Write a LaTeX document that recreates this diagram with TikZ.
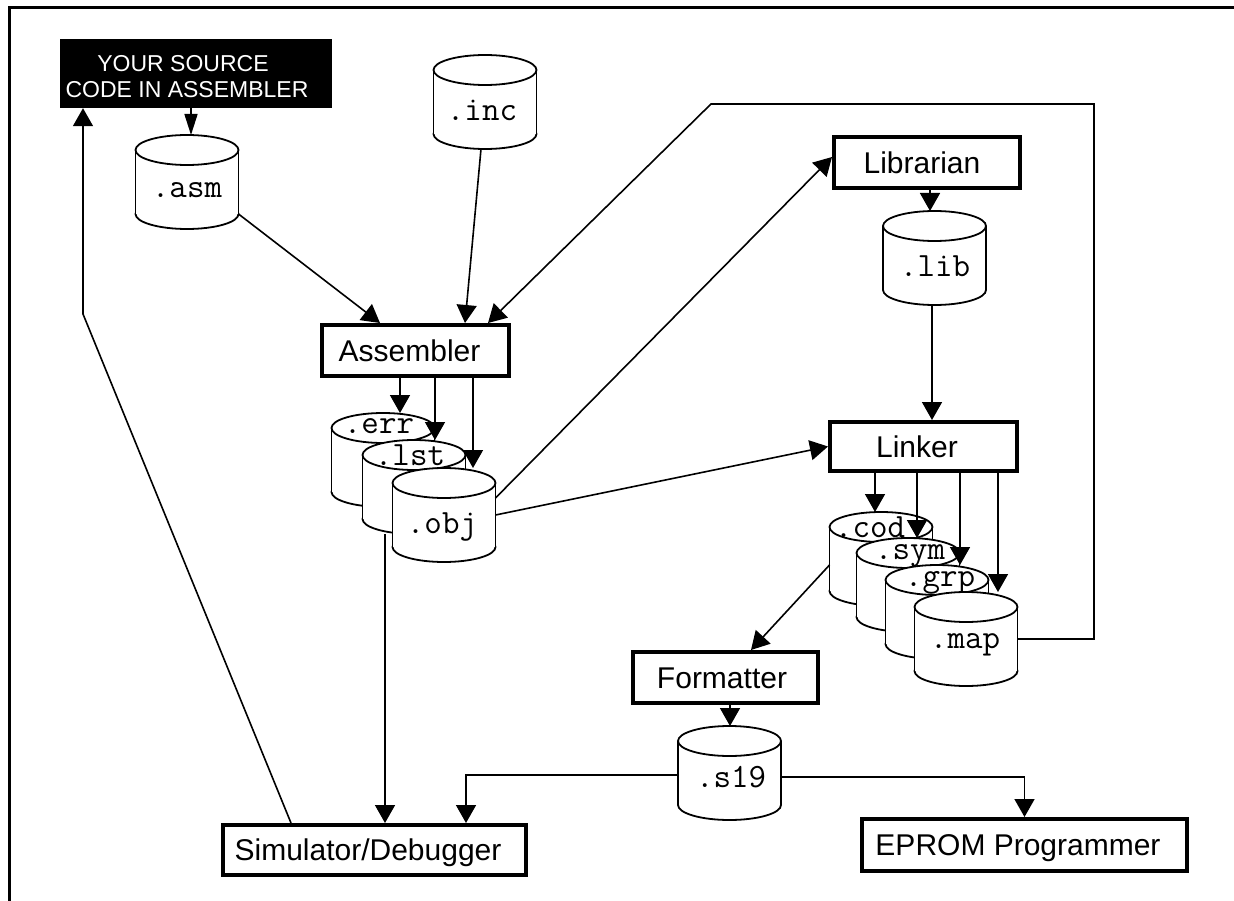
\documentclass[tikz,border=0pt]{standalone}
\usepackage{fontspec}
\setmainfont{Liberation Sans}
\usetikzlibrary{arrows.meta,calc}
\tikzset{
  conn/.style={line width=1.6pt},
  arr/.style={conn,-{Triangle[length=18pt,width=20pt]}},
  arrs/.style={conn,-{Triangle[length=21pt,width=13pt]}},
  cylline/.style={line width=1.8pt},
  procbox/.style={draw,line width=4pt,inner sep=0pt,text height=21.5pt,text depth=0pt,font=\fontsize{30}{36}\selectfont},
  monotext/.style={anchor=base,inner sep=0pt,font=\ttfamily\fontsize{34}{38}\selectfont},
  srctext/.style={anchor=base,text=white,inner sep=0pt,font=\fontsize{23}{26}\selectfont},
}
\newcommand\dbcyl[6]{%
  \draw[cylline,fill=white] (#2,#3+64) ellipse [x radius=51.5, y radius=15];
  \fill[white] (#2-51.5,#3) rectangle (#2+51.5,#3+64);
  \draw[cylline] (#2-51.5,#3) -- (#2-51.5,#3+64) (#2+51.5,#3) -- (#2+51.5,#3+64);
  \draw[cylline,fill=white] (#2,#3) ellipse [x radius=51.5, y radius=15];
  \node[inner sep=0pt,outer sep=0pt,minimum width=103pt,minimum height=94pt] (#1) at (#2,#3+32) {};
  \node[monotext] (#1t) at (#5,#6) {#4};
}
\begin{document}
\begin{tikzpicture}[x=1pt,y=-1pt]
\useasboundingbox (0,0) rectangle (1234,901);
\draw[line width=3pt] (9,901) -- (9,8) -- (1234,8);

% source box
\node[fill=black,inner sep=0pt,minimum width=272pt,minimum height=69pt] (src) at (196,73.5) {};
\node[srctext] (srcl1) at (183,72) {YOUR SOURCE};
\node[srctext] (srcl2) at (187,98) {CODE IN ASSEMBLER};

% process boxes
\node[procbox,minimum width=187pt,minimum height=51pt] (asmb) at (415.5,350.5) {\hspace*{-12pt}Assembler};
\node[procbox,minimum width=186pt,minimum height=51pt] (libr) at (927,162.5) {\hspace*{-10pt}Librarian};
\node[procbox,minimum width=187pt,minimum height=49pt] (link) at (923.5,446.5) {\hspace*{-13pt}Linker};
\node[procbox,minimum width=185pt,minimum height=51pt] (form) at (725.5,677.5) {\hspace*{-7pt}Formatter};
\node[procbox,minimum width=303pt,minimum height=50pt] (sim) at (374.5,850) {\hspace*{-13pt}Simulator/Debugger};
\node[procbox,minimum width=325pt,minimum height=52pt] (eprom) at (1024.5,845) {\hspace*{-13pt}EPROM Programmer};

% files
\dbcyl{asm}{187}{150}{.asm}{187}{198}
\dbcyl{inc}{485}{70}{.inc}{482}{121}
\dbcyl{lib}{934.5}{226}{.lib}{935}{277}
\dbcyl{err}{383}{428}{.err}{379}{433}
\dbcyl{lst}{414}{455}{.lst}{410}{465}
\dbcyl{obj}{444}{483}{.obj}{442}{533}
\dbcyl{cod}{881}{527}{.cod}{870}{537}
\dbcyl{sym}{908}{553}{.sym}{910}{559}
\dbcyl{grp}{937}{580}{.grp}{940}{586}
\dbcyl{map}{966}{607}{.map}{965}{648}
\dbcyl{s19}{729.5}{741}{.s19}{731}{787}

% connectors
\draw[arrs] ([xshift=-5pt]src.south) -- ([xshift=-5pt]src.south |- asm.north);
\coordinate (k1) at (83,314);
\draw[arr] ([xshift=-83.5pt]sim.north) -- (k1) -- (k1 |- src.south);
\draw[arr] ([yshift=15pt]asm.south east) -- ([xshift=-35.5pt]asmb.north);
\draw[arr] ([xshift=-4pt]inc.south) -- ([xshift=49.5pt]asmb.north);
\coordinate (k2) at (1094,104);
\coordinate (k3) at (711,104);
\draw[arr] (map.east) -| (k2) -- (k3) -- ([xshift=72.5pt]asmb.north);

\draw[arr] ([xshift=-15.5pt]asmb.south) -- ([xshift=-15.5pt]asmb.south |- err.north);
\draw[arr] ([xshift=19.5pt]asmb.south) -- ([xshift=19.5pt]asmb.south |- lst.north);
\draw[arr] ([xshift=57.5pt]asmb.south) -- ([xshift=57.5pt]asmb.south |- obj.north);
\draw[arr] ([xshift=-29pt]lst.south) -- ([xshift=-29pt]lst.south |- sim.north);

\draw[arr] ([yshift=17pt]obj.east) -- ([yshift=5.5pt]libr.west);
\draw[arr] (obj.east) -- (link.west);
\draw[arr] ([xshift=3pt]libr.south) -- ([xshift=3pt]libr.south |- lib.north);
\draw[arr] ([xshift=-2.5pt]lib.south) -- ([xshift=-2.5pt]lib.south |- link.north);

\foreach \dx/\t in {-48.5/cod,-6.5/sym,36.5/grp,74.5/map}
  \draw[arr] ([xshift=\dx pt]link.south) -- ([xshift=\dx pt]link.south |- \t.north);

\draw[arr] ([yshift=-6pt]cod.west) -- ([xshift=25.5pt]form.north);
\draw[arr] ([xshift=4.5pt]form.south) -- ([xshift=4.5pt]form.south |- s19.north);
\draw[arr] ([yshift=-2pt]s19.west) -| ([xshift=91.5pt]sim.north);
\draw[arr] ([yshift=-4pt]s19.east) -| (eprom.north);
\end{tikzpicture}
\end{document}
